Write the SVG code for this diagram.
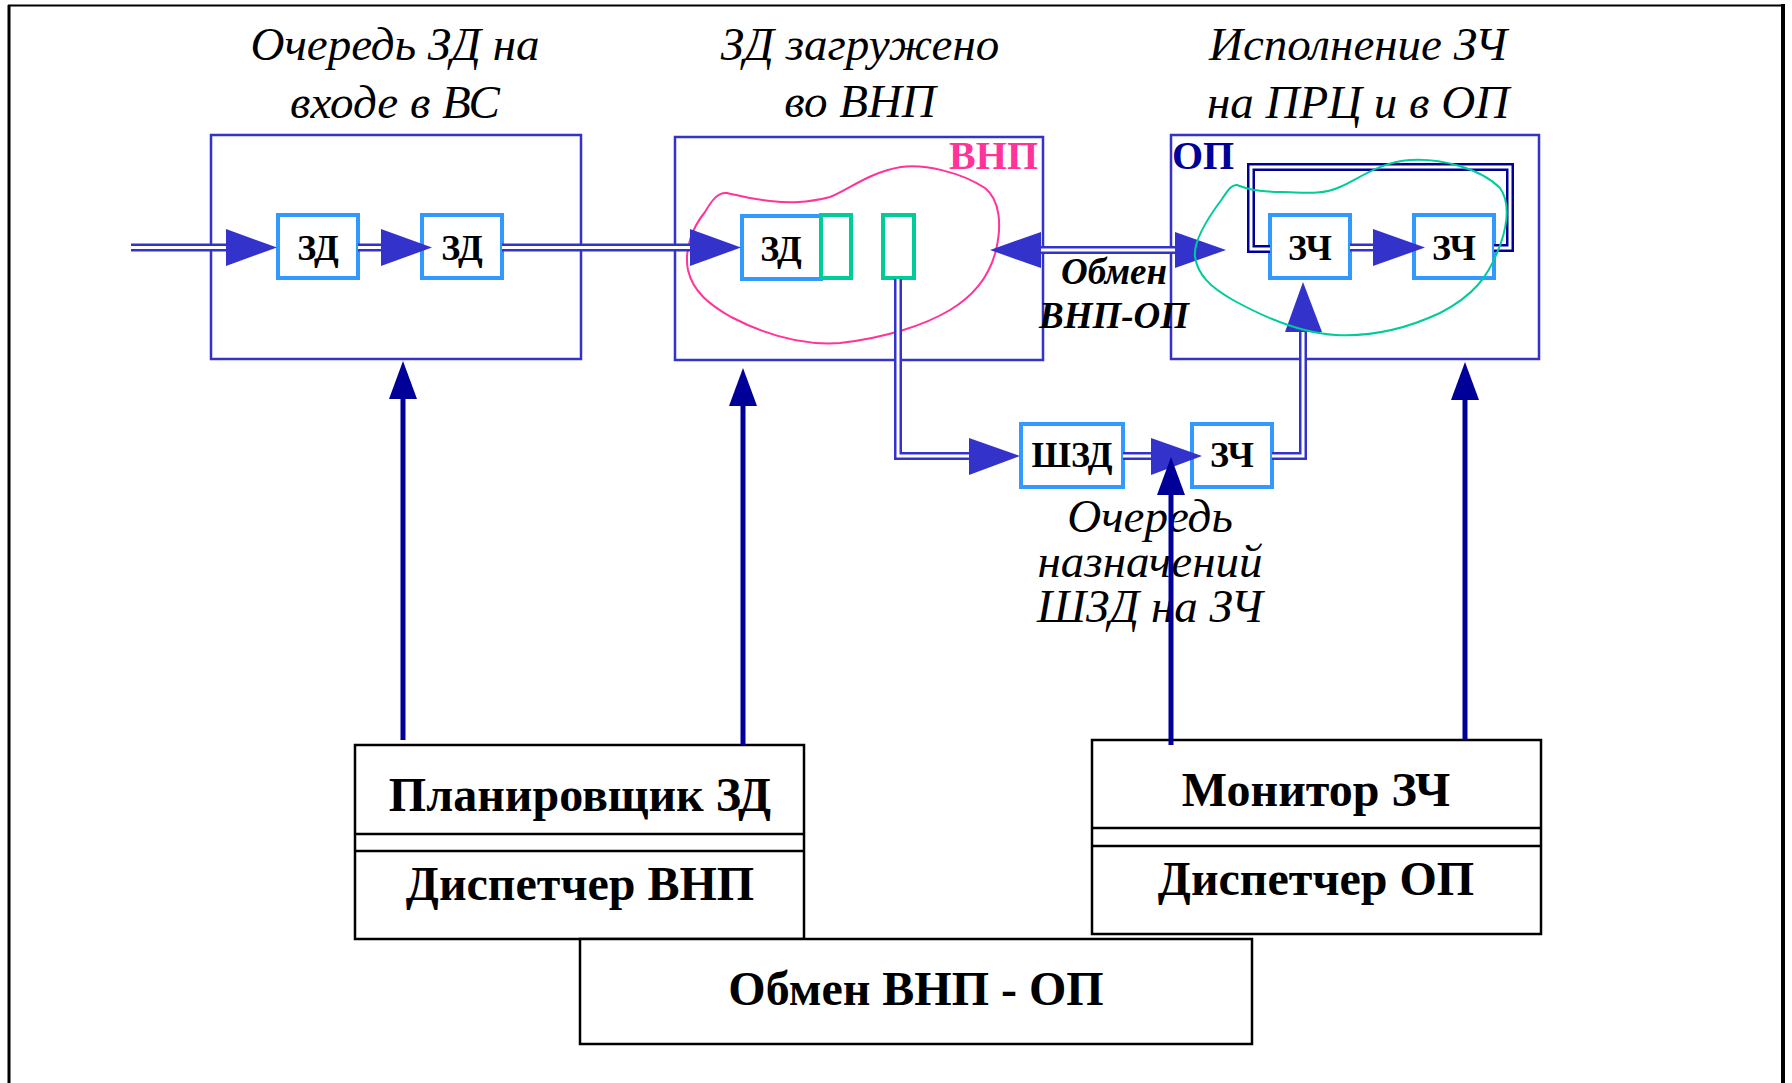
<svg xmlns="http://www.w3.org/2000/svg" xmlns:xlink="http://www.w3.org/1999/xlink" width="1792" height="1083" viewBox="0 0 1792 1083">
  <style>
    .frame { fill: none; stroke: #000; }
    .area { fill: none; stroke: #3333CC; stroke-width: 2.5; }
    .item { fill: #fff; stroke: #3399FF; stroke-width: 4; }
    .slot { fill: #fff; stroke: #00CC99; stroke-width: 4; }
    .block { fill: #fff; stroke: #000; stroke-width: 2.5; }
    .sep { stroke: #000; stroke-width: 2.5; }
    .pipe { fill: none; stroke: #3333CC; stroke-width: 8; }
    .pipe-in { fill: none; stroke: #fff; stroke-width: 3; }
    .loop { fill: none; stroke: #000099; stroke-width: 8; }
    .head { fill: #3333CC; }
    .ctl { fill: none; stroke: #000099; stroke-width: 5; }
    .ctl-head { fill: #000099; }
    .title { font-family: "Liberation Serif", "Times New Roman", serif; font-style: italic; font-size: 47px; fill: #000; text-anchor: middle; }
    .lbl { font-family: "Liberation Serif", "Times New Roman", serif; font-weight: bold; font-size: 36px; fill: #000; text-anchor: middle; }
    .big { font-family: "Liberation Serif", "Times New Roman", serif; font-weight: bold; font-size: 48px; fill: #000; text-anchor: middle; }
    .xchg { font-family: "Liberation Serif", "Times New Roman", serif; font-weight: bold; font-style: italic; font-size: 37px; fill: #000; text-anchor: middle; }
    .tag { font-family: "Liberation Serif", "Times New Roman", serif; font-weight: bold; font-size: 40px; }
  </style>

  <!-- outer frame (open at the bottom) -->
  <g id="frame">
    <line class="frame" x1="9" y1="1083" x2="9" y2="5" stroke-width="3"/>
    <line class="frame" x1="8" y1="5.5" x2="1784" y2="5.5" stroke-width="2" stroke="#222"/>
    <line class="frame" x1="1783" y1="4" x2="1783" y2="1083" stroke-width="4"/>
  </g>

  <!-- titles -->
  <g id="titles">
    <text class="title" x="395" y="60">Очередь ЗД на</text>
    <text class="title" x="395" y="118">входе в ВС</text>
    <text class="title" x="860" y="60">ЗД загружено</text>
    <text class="title" x="860" y="117">во ВНП</text>
    <text class="title" x="1358" y="60">Исполнение ЗЧ</text>
    <text class="title" x="1358" y="118">на ПРЦ и в ОП</text>
  </g>

  <!-- input queue area -->
  <g id="queue-in">
    <rect class="area" x="211" y="135" width="370" height="224"/>
    <g id="zd1">
      <rect class="item" x="278" y="215" width="80" height="63"/>
      <text class="lbl" x="318" y="260">ЗД</text>
    </g>
    <g id="zd2">
      <rect class="item" x="422" y="215" width="80" height="63"/>
      <text class="lbl" x="462" y="260">ЗД</text>
    </g>
  </g>

  <!-- ВНП area -->
  <g id="vnp">
    <rect class="area" x="675" y="137" width="368" height="223"/>
    <text class="tag" x="1038" y="169" fill="#FF3399" text-anchor="end">ВНП</text>
    <path fill="none" stroke="#FF3399" stroke-width="2" d="M727,193 C740,196 750,199 770,201 C790,203 806,203 830,197 C848,190 870,172 901,167 C925,164 960,172 985,188 C1000,200 1002,225 996,250 C990,275 975,295 950,310 C925,325 885,338 840,343 C800,346 760,332 731,317 C710,305 693,292 688,270 C684,250 692,228 705,212 C712,200 718,192 727,193 Z"/>
    <g id="zd-loaded">
      <rect class="item" x="742" y="216" width="79" height="63"/>
      <text class="lbl" x="781" y="261">ЗД</text>
    </g>
    <rect id="slot1" class="slot" x="821" y="215" width="30" height="63"/>
    <rect id="slot2" class="slot" x="883" y="215" width="31" height="63"/>
  </g>

  <!-- ОП area -->
  <g id="op">
    <rect class="area" x="1171" y="135" width="368" height="224"/>
    <text class="tag" x="1172" y="169" fill="#000099">ОП</text>
    <g id="zch1">
      <rect class="item" x="1270" y="215" width="80" height="63"/>
      <text class="lbl" x="1310" y="260">ЗЧ</text>
    </g>
    <g id="zch2">
      <rect class="item" x="1414" y="215" width="80" height="63"/>
      <text class="lbl" x="1454" y="260">ЗЧ</text>
    </g>
  </g>

  <!-- assignment queue -->
  <g id="assign-queue">
    <g id="shzd">
      <rect class="item" x="1021" y="424" width="102" height="63"/>
      <text class="lbl" x="1072" y="467">ШЗД</text>
    </g>
    <g id="zch-q">
      <rect class="item" x="1192" y="424" width="80" height="63"/>
      <text class="lbl" x="1232" y="467">ЗЧ</text>
    </g>
    <text class="title" x="1150" y="532">Очередь</text>
    <text class="title" x="1150" y="577">назначений</text>
    <text class="title" x="1150" y="622">ШЗД на ЗЧ</text>
  </g>

  <!-- control blocks -->
  <g id="planner">
    <rect class="block" x="355" y="745" width="449" height="194"/>
    <line class="sep" x1="355" y1="834" x2="804" y2="834" stroke-width="3"/>
    <line class="sep" x1="355" y1="851" x2="804" y2="851"/>
    <text class="big" x="580" y="811">Планировщик ЗД</text>
    <text class="big" x="580" y="900">Диспетчер ВНП</text>
  </g>
  <g id="monitor">
    <rect class="block" x="1092" y="740" width="449" height="194"/>
    <line class="sep" x1="1092" y1="828" x2="1541" y2="828" stroke-width="3"/>
    <line class="sep" x1="1092" y1="846" x2="1541" y2="846"/>
    <text class="big" x="1316" y="806">Монитор ЗЧ</text>
    <text class="big" x="1316" y="895">Диспетчер ОП</text>
  </g>
  <g id="exchange">
    <rect class="block" x="580" y="939" width="672" height="105"/>
    <text class="big" x="916" y="1005">Обмен ВНП - ОП</text>
  </g>

  <!-- connectors -->
  <defs>
    <path id="p1" d="M131,247.5 H228"/>
    <path id="p2" d="M358,247.5 H383"/>
    <path id="p3" d="M502,247.5 H692"/>
    <path id="p4" d="M1040,250 H1176"/>
    <path id="p5" d="M898,279 V456 H970"/>
    <path id="p6" d="M1123,456 H1153"/>
    <path id="p7" d="M1272,456 H1303 V330"/>
    <path id="p8" d="M1350,247.5 H1375"/>
    <path id="p9" d="M1494,248 H1510 V167 H1251 V249 H1270"/>
  </defs>
  <g id="connectors">
    <use href="#p1" class="pipe"/><use href="#p1" class="pipe-in"/>
    <use href="#p2" class="pipe"/><use href="#p2" class="pipe-in"/>
    <use href="#p3" class="pipe"/><use href="#p3" class="pipe-in"/>
    <use href="#p4" class="pipe"/><use href="#p4" class="pipe-in"/>
    <use href="#p5" class="pipe"/><use href="#p5" class="pipe-in"/>
    <use href="#p6" class="pipe"/><use href="#p6" class="pipe-in"/>
    <use href="#p7" class="pipe"/><use href="#p7" class="pipe-in"/>
    <use href="#p8" class="pipe"/><use href="#p8" class="pipe-in"/>
    <use href="#p9" class="loop"/><use href="#p9" class="pipe-in"/>

    <polygon class="head" points="226,229 226,266 277,247.5"/>
    <polygon class="head" points="381,229 381,266 432,247.5"/>
    <polygon class="head" points="690,229 690,266 741,247.5"/>
    <polygon class="head" points="1041,232 1041,268 990,250"/>
    <polygon class="head" points="1175,232 1175,268 1226,250"/>
    <polygon class="head" points="969,438 969,475 1020,456"/>
    <polygon class="head" points="1151,438 1151,475 1202,456"/>
    <polygon class="head" points="1285,332 1322,332 1303,282"/>
    <polygon class="head" points="1373,229 1373,266 1425,247.5"/>

    <line class="ctl" x1="403" y1="740" x2="403" y2="396"/>
    <polygon class="ctl-head" points="389,399 417,399 403,361"/>
    <line class="ctl" x1="743" y1="745" x2="743" y2="403"/>
    <polygon class="ctl-head" points="729,406 757,406 743,368"/>
    <line class="ctl" x1="1171" y1="745" x2="1171" y2="492"/>
    <polygon class="ctl-head" points="1157,495 1185,495 1171,457"/>
    <line class="ctl" x1="1465" y1="740" x2="1465" y2="397"/>
    <polygon class="ctl-head" points="1451,400 1479,400 1465,362"/>
  </g>

  <!-- exchange label -->
  <g id="xchg-label">
    <text class="xchg" x="1114" y="284">Обмен</text>
    <text class="xchg" x="1114" y="328">ВНП-ОП</text>
  </g>

  <!-- ОП execution contour -->
  <path id="op-contour" fill="none" stroke="#00CC99" stroke-width="2" d="M1237,185 C1245,188 1255,192 1282,192 C1300,192 1320,196 1340,187 C1360,178 1380,162 1410,160 C1440,158 1480,168 1500,188 C1512,205 1506,232 1497,253 C1488,275 1475,295 1440,313 C1410,327 1375,337 1336,335 C1300,333 1260,315 1233,300 C1210,287 1198,275 1195,257 C1193,240 1210,215 1222,199 C1228,190 1232,184 1237,185 Z"/>
</svg>
